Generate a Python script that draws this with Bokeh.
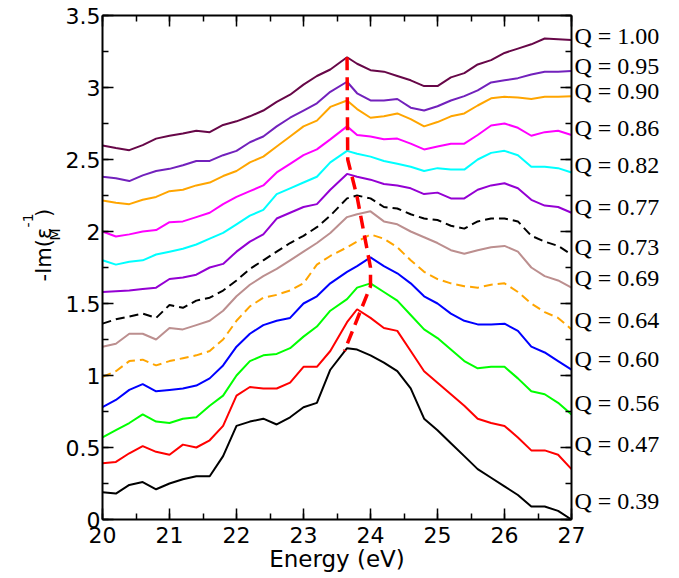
import math
from bokeh.plotting import figure
from bokeh.layouts import row
from bokeh.models import (Range1d, LinearAxis, SingleIntervalTicker, FixedTicker,
                          CustomJSTickFormatter)
from bokeh.core.properties import value
from bokeh.embed import file_html
from bokeh.resources import INLINE

# ---------------- data ----------------
energy = [20.0, 20.2, 20.4, 20.6, 20.8, 21.0, 21.2, 21.4, 21.6, 21.8, 22.0, 22.2,
          22.4, 22.6, 22.8, 23.0, 23.2, 23.4, 23.65, 23.8, 24.0, 24.2, 24.4, 24.6,
          24.8, 25.0, 25.2, 25.4, 25.6, 25.8, 26.0, 26.2, 26.4, 26.6, 26.8, 27.0]

q039 = [0.19, 0.18, 0.24, 0.26, 0.21, 0.25, 0.28, 0.30, 0.30, 0.44, 0.65, 0.68,
        0.70, 0.66, 0.71, 0.78, 0.81, 1.04, 1.19, 1.18, 1.14, 1.09, 1.03, 0.91,
        0.70, 0.62, 0.53, 0.44, 0.35, 0.29, 0.23, 0.17, 0.09, 0.09, 0.06, 0.00]
q047 = [0.39, 0.40, 0.46, 0.51, 0.47, 0.45, 0.52, 0.50, 0.55, 0.65, 0.86, 0.92,
        0.91, 0.91, 0.95, 1.06, 1.06, 1.17, 1.37, 1.46, 1.40, 1.33, 1.31, 1.17,
        1.03, 0.95, 0.87, 0.79, 0.70, 0.67, 0.65, 0.57, 0.48, 0.48, 0.45, 0.35]
q056 = [0.57, 0.62, 0.67, 0.73, 0.68, 0.67, 0.70, 0.71, 0.79, 0.86, 1.00, 1.10,
        1.14, 1.15, 1.19, 1.27, 1.34, 1.45, 1.53, 1.61, 1.64, 1.58, 1.52, 1.42,
        1.32, 1.26, 1.18, 1.10, 1.05, 1.06, 1.06, 0.98, 0.89, 0.87, 0.81, 0.73]
q060 = [0.78, 0.83, 0.90, 0.94, 0.89, 0.90, 0.91, 0.93, 0.98, 1.07, 1.20, 1.29,
        1.35, 1.38, 1.40, 1.50, 1.55, 1.64, 1.72, 1.76, 1.82, 1.76, 1.71, 1.64,
        1.55, 1.50, 1.43, 1.38, 1.355, 1.355, 1.36, 1.31, 1.20, 1.16, 1.10, 1.04]
q064 = [0.99, 1.03, 1.10, 1.11, 1.07, 1.10, 1.12, 1.14, 1.17, 1.25, 1.38, 1.48,
        1.54, 1.56, 1.59, 1.64, 1.77, 1.83, 1.89, 1.93, 1.98, 1.95, 1.89, 1.80,
        1.72, 1.67, 1.64, 1.62, 1.61, 1.63, 1.64, 1.58, 1.50, 1.44, 1.40, 1.32]
q069 = [1.20, 1.22, 1.29, 1.29, 1.25, 1.33, 1.32, 1.35, 1.38, 1.45, 1.55, 1.63,
        1.69, 1.74, 1.80, 1.86, 1.92, 1.99, 2.10, 2.12, 2.14, 2.07, 2.05, 2.00,
        1.96, 1.92, 1.87, 1.845, 1.87, 1.89, 1.90, 1.86, 1.75, 1.69, 1.66, 1.61]
q073 = [1.36, 1.39, 1.41, 1.43, 1.40, 1.49, 1.47, 1.52, 1.54, 1.59, 1.66, 1.74,
        1.80, 1.86, 1.92, 1.97, 2.03, 2.11, 2.23, 2.25, 2.23, 2.17, 2.16, 2.12,
        2.09, 2.08, 2.04, 2.02, 2.07, 2.09, 2.09, 2.07, 1.97, 1.93, 1.90, 1.84]
q077 = [1.58, 1.585, 1.59, 1.60, 1.61, 1.67, 1.68, 1.70, 1.75, 1.775, 1.86, 1.93,
        1.98, 2.09, 2.13, 2.17, 2.19, 2.29, 2.40, 2.38, 2.36, 2.33, 2.32, 2.30,
        2.26, 2.27, 2.23, 2.23, 2.29, 2.32, 2.335, 2.30, 2.22, 2.18, 2.17, 2.13]
q082 = [1.80, 1.77, 1.79, 1.80, 1.84, 1.86, 1.88, 1.91, 1.95, 1.99, 2.05, 2.11,
        2.15, 2.26, 2.30, 2.34, 2.38, 2.48, 2.56, 2.54, 2.52, 2.49, 2.47, 2.45,
        2.42, 2.44, 2.43, 2.43, 2.50, 2.546, 2.56, 2.53, 2.45, 2.45, 2.44, 2.41]
q086 = [2.00, 1.965, 1.98, 2.00, 2.01, 2.065, 2.07, 2.10, 2.13, 2.19, 2.24, 2.28,
        2.32, 2.41, 2.47, 2.53, 2.57, 2.64, 2.73, 2.67, 2.66, 2.64, 2.645, 2.61,
        2.57, 2.59, 2.61, 2.61, 2.67, 2.736, 2.75, 2.72, 2.665, 2.69, 2.70, 2.67]
q090 = [2.215, 2.20, 2.19, 2.22, 2.24, 2.28, 2.29, 2.32, 2.34, 2.385, 2.42, 2.48,
        2.52, 2.59, 2.66, 2.73, 2.77, 2.865, 2.91, 2.85, 2.79, 2.80, 2.82, 2.78,
        2.73, 2.76, 2.80, 2.82, 2.875, 2.925, 2.935, 2.93, 2.92, 2.935, 2.935, 2.94]
q095 = [2.38, 2.37, 2.35, 2.39, 2.42, 2.435, 2.46, 2.49, 2.49, 2.53, 2.56, 2.62,
        2.66, 2.73, 2.79, 2.84, 2.89, 2.97, 3.04, 2.96, 2.91, 2.91, 2.92, 2.86,
        2.84, 2.87, 2.91, 2.94, 2.98, 3.035, 3.05, 3.065, 3.09, 3.11, 3.11, 3.115]
q100 = [2.597, 2.58, 2.565, 2.60, 2.645, 2.665, 2.68, 2.70, 2.69, 2.74, 2.765, 2.80,
        2.84, 2.90, 2.95, 3.02, 3.08, 3.125, 3.21, 3.165, 3.12, 3.11, 3.08, 3.05,
        3.01, 3.01, 3.07, 3.10, 3.16, 3.19, 3.24, 3.27, 3.30, 3.34, 3.335, 3.33]

# red dashed guide through the loss-peak positions
peak_energy = [23.65, 23.66, 23.80, 24.00, 24.00, 23.61]
peak_value = [3.21, 2.50, 2.24, 1.75, 1.62, 1.17]

q_labels = ["Q = 1.00", "Q = 0.95", "Q = 0.90", "Q = 0.86", "Q = 0.82", "Q = 0.77",
            "Q = 0.73", "Q = 0.69", "Q = 0.64", "Q = 0.60", "Q = 0.56", "Q = 0.47",
            "Q = 0.39"]
q_label_y = [3.355, 3.146, 2.979, 2.722, 2.465, 2.167, 1.889, 1.674, 1.382, 1.118,
             0.8125, 0.521, 0.127]

x_title = "Energy (eV)"
# y title  -Im(eps_M^-1): pieces drawn in a narrow side panel
y_title_big = ["-Im(\u03b5", ")"]
y_title_small = ["M", "-1"]

# ---------------- layout (page pixels) ----------------
TOTAL_W, H = 672, 578
SIDE_W = 62                        # narrow panel holding the y title
FL, FR, FT, FB = 99, 571, 15, 519  # frame edges of the plot

FONT = "DejaVu Sans"

# ---- side panel with the y title (1 data unit = 1 px) ----
side = figure(width=SIDE_W, height=H, output_backend="svg", toolbar_location=None,
              x_range=Range1d(0, SIDE_W), y_range=Range1d(0, H),
              x_axis_location=None, y_axis_location=None, min_border=0,
              min_border_left=0, min_border_right=0, min_border_top=0,
              min_border_bottom=0, background_fill_color="white",
              border_fill_color="white")
side.grid.visible = False
side.outline_line_color = None
side.text(x=[43, 43], y=[H - 305, H - 231], text=y_title_big, angle=math.pi / 2,
          text_font=value(FONT), text_font_size="21px", text_color="black",
          text_align="left", text_baseline="alphabetic")
side.text(x=[54, 27], y=[H - 258, H - 243], text=y_title_small, angle=math.pi / 2,
          text_font=value(FONT), text_font_size="14px", text_color="black",
          text_align="left", text_baseline="alphabetic")

# ---- main plot ----
W = TOTAL_W - SIDE_W
p = figure(width=W, height=H, output_backend="svg", toolbar_location=None,
           x_range=Range1d(20, 27), y_range=Range1d(0, 3.5),
           x_axis_location=None, y_axis_location=None,
           min_border_left=FL - SIDE_W, min_border_right=TOTAL_W - FR,
           min_border_top=FT, min_border_bottom=H - FB,
           background_fill_color="white", border_fill_color="white")
p.grid.visible = False
p.outline_line_color = None

fmt = CustomJSTickFormatter(code="return String(Math.round(tick*100)/100);")
blank = CustomJSTickFormatter(code="return '';")


def tick_axis(interval, show):
    ax = LinearAxis(ticker=SingleIntervalTicker(interval=interval, num_minor_ticks=2))
    ax.axis_line_width = 2
    ax.axis_line_color = "black"
    ax.major_tick_in = 11
    ax.major_tick_out = 0
    ax.minor_tick_in = 6
    ax.minor_tick_out = 0
    ax.major_tick_line_width = 1.5
    ax.minor_tick_line_width = 1.5
    ax.major_tick_line_color = "black"
    ax.minor_tick_line_color = "black"
    if show:
        ax.formatter = fmt
        ax.major_label_text_font = FONT
        ax.major_label_text_font_size = "22px"
        ax.major_label_text_color = "black"
    else:
        ax.formatter = blank
        ax.major_label_text_font_size = "0px"
        ax.major_label_standoff = 0
    return ax


xb = tick_axis(1, True)
xb.major_label_standoff = 7
xb.axis_label = x_title
xb.axis_label_text_font = FONT
xb.axis_label_text_font_size = "23px"
xb.axis_label_text_font_style = "normal"
xb.axis_label_text_color = "black"
xb.axis_label_standoff = 0
p.add_layout(xb, "below")

yl = tick_axis(0.5, True)
yl.major_label_standoff = 2
p.add_layout(yl, "left")

p.add_layout(tick_axis(1, False), "above")
p.add_layout(tick_axis(0.5, False), "right")

# Q labels as a tick-free right axis
qa = LinearAxis(ticker=FixedTicker(ticks=q_label_y, minor_ticks=[]))
qa.formatter = CustomJSTickFormatter(
    args=dict(pos=q_label_y, txt=q_labels),
    code="const i = pos.findIndex(t => Math.abs(t - tick) < 1e-6); return i >= 0 ? txt[i] : '';")
qa.axis_line_color = None
qa.major_tick_line_color = None
qa.minor_tick_line_color = None
qa.major_tick_in = 0
qa.major_tick_out = 0
qa.minor_tick_in = 0
qa.minor_tick_out = 0
qa.major_label_standoff = 3
qa.major_label_text_font = "Liberation Serif"
qa.major_label_text_font_size = "24px"
qa.major_label_text_color = "black"
p.add_layout(qa, "right")

series = [
    (q039, "#000000", "solid"),
    (q047, "#ff0000", "solid"),
    (q056, "#00ff00", "solid"),
    (q060, "#0000ff", "solid"),
    (q064, "#ffa500", "9 5"),
    (q069, "#bc8f8f", "solid"),
    (q073, "#000000", "9 5"),
    (q077, "#9400d3", "solid"),
    (q082, "#00ffff", "solid"),
    (q086, "#ff00ff", "solid"),
    (q090, "#ffa500", "solid"),
    (q095, "#7221bc", "solid"),
    (q100, "#670748", "solid"),
]
for vals, col, dash in series:
    p.line(energy, vals, line_color=col, line_width=2, line_dash=dash)

p.line(peak_energy, peak_value, line_color="#ff0000", line_width=3.5,
       line_dash="13 7")

layout = row(side, p, spacing=0)
open("out.html", "w").write(file_html(layout, INLINE))
